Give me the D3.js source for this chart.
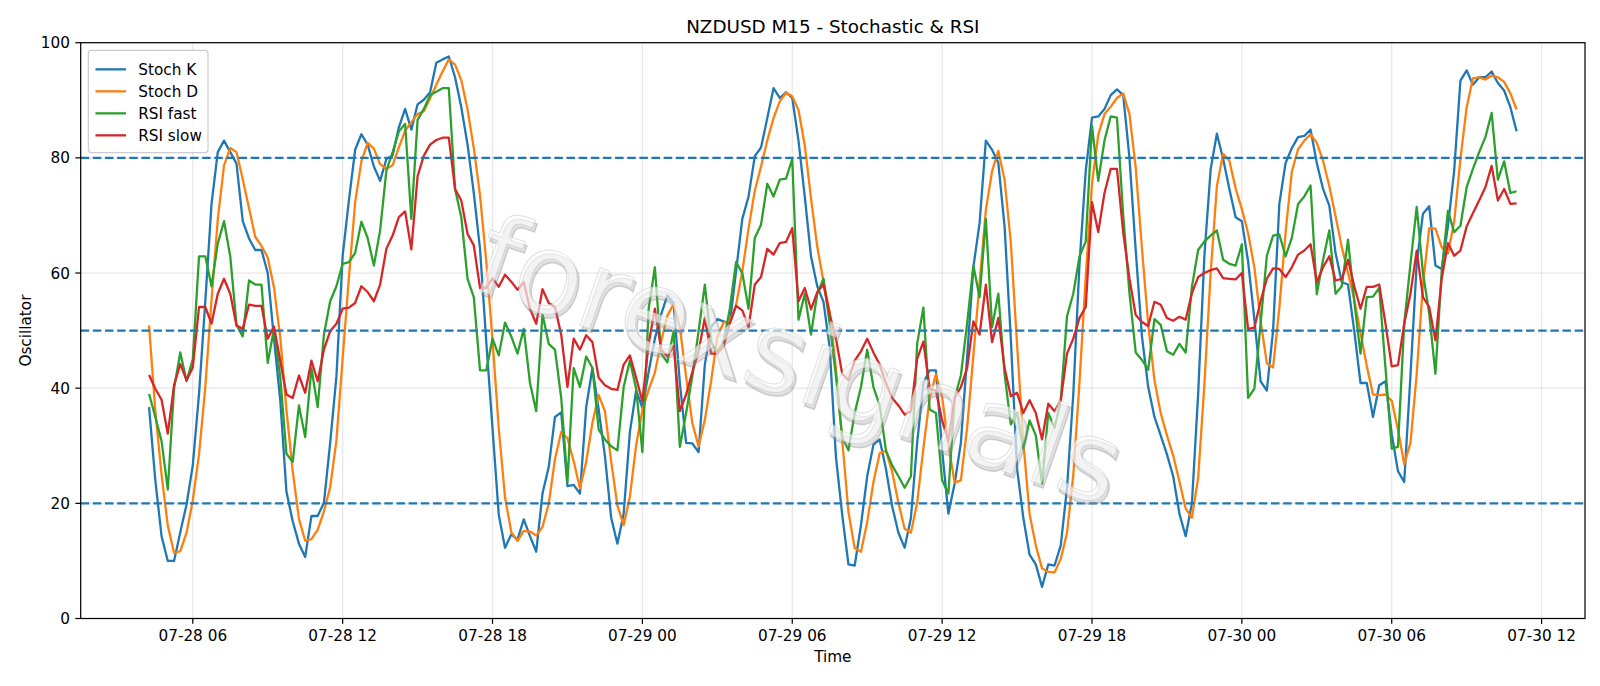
<!DOCTYPE html>
<html>
<head>
<meta charset="utf-8">
<script src="https://cdn.jsdelivr.net/npm/d3@7"></script>
<style>
  html, body { margin: 0; padding: 0; background: #fff; }
  svg { display: block; font-family: 'DejaVu Sans', sans-serif; }
</style>
</head>
<body>
<svg id="chart" width="1600" height="686"></svg>
<script>
'use strict';

// M15 bars from 07-28 04:15 to 07-30 11:00 (UTC)
const START = Date.UTC(2025, 6, 28, 4, 15);
const BAR_MS = 15 * 60 * 1000;

const stochK = [
    36.7, 24, 14.3, 10, 10, 15, 19.8, 26.6, 39, 55,
    72, 81, 83, 81, 79, 69, 66, 64, 64, 60,
    48.6, 38, 22, 16.9, 13, 10.7, 17.8, 17.8, 20.1, 30.5,
    42, 63, 72.6, 81.4, 84.1, 82.3, 78.5, 76, 79.8, 80.4,
    85.3, 88.5, 84.9, 89.3, 90.1, 91.4, 96.5, 97.1, 97.6, 94,
    88.8, 82.3, 73.9, 64.2, 48, 33, 18, 12.3, 14.6, 13.7,
    17.2, 14.3, 11.6, 21.7, 26.3, 35, 35.8, 23, 23.2, 21.7,
    36.7, 43.5, 36.3, 28.2, 17.5, 13, 18.2, 32.4, 39.6, 36.6,
    42.8, 48.6, 52.8, 56.1, 54.8, 40.9, 30.5, 30.4, 28.9, 44.1,
    50.6, 52, 51.6, 51.2, 60.3, 69.4, 73.3, 80.3, 81.8, 86.9,
    92.1, 90.4, 91.4, 90.4, 83, 73.3, 62.9, 57.7, 55, 47,
    28, 18, 9.4, 9.2, 16.2, 24.7, 30.2, 31.1, 26, 19.5,
    14.9, 12.3, 17.5, 30.5, 40.9, 43.1, 43.1, 29.2, 18.2, 23.4,
    30.5, 45.4, 61, 68.7, 83, 81.4, 79.1, 68.1, 48.6, 26,
    17.5, 11.1, 9.4, 5.5, 9.4, 9.2, 12.7, 22.7, 38.9, 61.6,
    77.8, 87, 87.2, 88.5, 90.9, 91.9, 90.9, 80, 64, 49,
    40.2, 35, 31.8, 28.5, 24.7, 18.2, 14.3, 20, 39, 63,
    78, 84.2, 79.8, 74.6, 69.7, 69, 62, 52, 41.2, 39.6,
    50, 72, 79.1, 81.7, 83.6, 83.8, 84.9, 79.1, 74.6, 71.7,
    63.5, 58.4, 58, 49.9, 40.9, 40.9, 35, 40.5, 41.2, 32,
    25.6, 23.7, 42.2, 61.6, 70.3, 71.6, 61.3, 60.7, 68.1, 77.8,
    93.4, 95.2, 92.7, 94, 94, 95, 93, 91.7, 88.8, 84.6
];

const stochD = [
    50.9, 36, 25, 16.1, 11.4, 11.7, 14.9, 20.5, 28.5, 40.2,
    55.3, 69.3, 78.7, 81.7, 81, 76.3, 71.3, 66.3, 64.7, 62.7,
    57.5, 48.9, 36.2, 25.6, 17.3, 13.5, 13.8, 15.4, 18.6, 22.8,
    30.9, 45.2, 59.2, 72.3, 79.4, 82.6, 81.6, 78.9, 78.1, 78.7,
    81.8, 84.7, 86.2, 87.6, 88.1, 90.3, 92.7, 95, 97.1, 96.2,
    93.5, 88.4, 81.7, 73.5, 62, 48.4, 33, 21.1, 15, 13.5,
    15.2, 15.1, 14.4, 15.9, 19.9, 27.7, 32.4, 31.3, 27.3, 22.6,
    27.2, 34, 38.8, 36, 27.3, 19.6, 16.2, 21.2, 30.1, 36.2,
    39.7, 42.7, 48.1, 52.6, 54.6, 50.6, 42, 33.9, 29.9, 34.5,
    41.2, 48.9, 51.4, 51.6, 54.4, 60.3, 67.7, 74.3, 78.5, 83,
    86.9, 89.8, 91.3, 90.7, 88.3, 82.2, 73, 64.6, 58.5, 53.2,
    43.3, 31, 18.5, 12.2, 11.6, 16.7, 23.7, 28.7, 29.1, 25.5,
    20.1, 15.6, 14.9, 20.1, 29.6, 38.2, 42.4, 38.5, 30.2, 23.6,
    24, 33.1, 45.6, 58.4, 70.9, 77.7, 81.2, 76.2, 65.3, 47.6,
    30.7, 18.2, 12.7, 8.7, 8.1, 8, 10.4, 14.9, 24.8, 41.1,
    59.4, 75.5, 84, 87.6, 88.9, 90.4, 91.2, 87.6, 78.3, 64.3,
    51.1, 41.4, 35.7, 31.8, 28.3, 23.8, 19.1, 17.5, 24.4, 40.7,
    60, 75.1, 80.7, 79.5, 74.7, 71.1, 66.9, 61, 51.7, 44.3,
    43.6, 53.9, 67, 77.6, 81.5, 83, 84.1, 82.6, 79.5, 75.1,
    69.9, 64.5, 60, 55.4, 49.6, 43.9, 38.9, 38.8, 38.9, 37.8,
    32.8, 26.8, 30.5, 42.5, 58, 67.8, 67.7, 64.5, 63.4, 68.9,
    79.8, 88.8, 93.8, 94, 93.6, 94.3, 94, 93.2, 91.2, 88.4
];

const rsiFast = [
    39, 35, 30.8, 22.4, 40, 46.2, 41.2, 45, 62.9, 62.9,
    57.7, 65.1, 69, 62.9, 51, 49, 58.7, 58, 58, 44.4,
    50.3, 42, 28.6, 27.2, 37, 31.5, 43.5, 36.7, 49.3, 55.1,
    57.7, 61.6, 61.9, 63.5, 68.9, 66.1, 61.3, 67.4, 77.8, 81,
    84.6, 85.9, 69.4, 86.6, 88.5, 90.9, 91.5, 92.1, 92.1, 74.6,
    69.7, 59, 55.8, 43.1, 43.1, 48.6, 45.7, 51.4, 49, 46,
    50.3, 40.9, 36, 52.9, 47.7, 46.7, 38.3, 23.7, 43.5, 40.2,
    45.5, 43.5, 32.8, 31.1, 29.9, 29.2, 40.2, 44.8, 39.9, 28.9,
    53.8, 61, 46, 44.5, 49.9, 29.8, 35.7, 42.1, 49.9, 58,
    48, 46.4, 48, 53.8, 61.9, 60, 53.8, 66.1, 68.4, 75.5,
    73.3, 76.2, 76.4, 79.8, 51.9, 56.4, 49.3, 56.4, 59, 51.2,
    42.1, 31.5, 29.2, 35.7, 40.2, 46.7, 40.2, 37, 29.2, 26.6,
    24.7, 22.7, 24.7, 47.7, 54, 36.3, 35.7, 24, 21.7, 38.3,
    42.2, 51.2, 61.3, 55.8, 69.4, 50.6, 56.4, 42.5, 33.7, 35.7,
    29.5, 34.4, 31.8, 23.4, 35.7, 33.1, 37.9, 52.5, 56.4, 62.9,
    65.5, 85.6, 76, 83, 87.2, 87, 70, 56.5, 46.2, 44.9,
    43.2, 52, 51, 46.4, 45.8, 47.7, 46.2, 57.6, 64, 65.5,
    66.5, 67.4, 62.3, 61.6, 61.3, 65, 38.3, 39.9, 51.2, 63,
    66.5, 66.7, 62.9, 66.1, 72, 73.3, 75.2, 56.3, 62.3, 67.4,
    56.4, 57.7, 65.8, 55.1, 46, 55.8, 55.9, 57.4, 43.5, 29.5,
    29.8, 51.2, 61.6, 71.5, 60, 53, 42.5, 60.3, 70.8, 67.1,
    68.2, 74.9, 78.1, 81, 83.6, 87.8, 76.2, 79.4, 73.9, 74.2
];

const rsiSlow = [
    42.3, 39.9, 38, 32.1, 40.5, 44.2, 41.4, 43.6, 54.1, 54.1,
    51.2, 56.4, 59, 56.4, 50.9, 50.3, 54.5, 54.3, 54.3, 48.6,
    50.7, 44.8, 38.9, 38.3, 42.2, 39.2, 44.8, 41.2, 46.7, 49.9,
    51.2, 53.8, 54, 54.8, 57.7, 56.7, 55.1, 58, 64.2, 66.5,
    69.7, 70.7, 64.1, 76.8, 80.4, 82.3, 83.1, 83.5, 83.5, 74.6,
    72.6, 66.8, 64.8, 57.4, 57.4, 59.1, 57.6, 59.7, 58.5, 57.1,
    58.4, 53.8, 51.2, 57.2, 54.8, 54.1, 49.3, 40.2, 48.6, 46.7,
    49.2, 48, 41.8, 40.5, 39.9, 39.7, 44.1, 45.7, 41.8, 37.7,
    47.7, 53.8, 46.7, 45.5, 47.3, 36, 38.9, 42.8, 46.4, 52.2,
    46, 46, 47.3, 51.2, 54.3, 53.5, 50.6, 58, 59.3, 64.2,
    63.2, 65.2, 65.4, 67.8, 55.1, 57.4, 53.7, 56.7, 58, 52.8,
    48.6, 42.5, 41.4, 44.8, 46.4, 48.6, 46.2, 44.1, 40.9, 38.3,
    37, 35.4, 36, 45.1, 48.1, 39.9, 39.6, 34.4, 30.8, 38.3,
    40.2, 43.5, 51.6, 49.3, 58, 48, 52.2, 43.5, 38.6, 39.2,
    35.7, 37.9, 35.7, 31.1, 37.3, 36, 37.9, 46, 48.6, 52.2,
    54.1, 72.3, 67.1, 73.9, 78.1, 78.1, 67, 59, 52.7, 51.5,
    50.8, 55, 54.5, 52.2, 51.7, 52.4, 51.9, 56.5, 59.3, 60,
    60.5, 60.8, 59.1, 59, 58.9, 60, 50.3, 50.5, 55.1, 59,
    60.8, 60.7, 59.3, 61, 63.2, 63.9, 65, 58.4, 61, 62.9,
    58.7, 59, 62.3, 57.7, 53.8, 57.6, 57.6, 58, 51.2, 43.8,
    44, 51.2, 56.4, 63.9, 55.8, 54.1, 48.3, 59, 65.2, 63,
    63.9, 68.1, 70.4, 72.6, 74.9, 78.6, 72.6, 74.6, 72, 72.1
];

const seriesNames = ['Stoch K', 'Stoch D', 'RSI fast', 'RSI slow'];
const seriesColors = ['#1f77b4', '#ff7f0e', '#2ca02c', '#d62728'];
const levels = [20, 50, 80];
const yTicks = [0, 20, 40, 60, 80, 100];

const M = { left: 80.7, right: 1585, top: 42.7, bottom: 618.5 };
const PT = 110 / 72;               // matplotlib points -> px
const FS = 10 * PT;                 // tick/legend font size
const LW = 1.5 * PT;

const times = stochK.map((_, i) => new Date(START + i * BAR_MS));
const span = times[times.length - 1] - times[0];

const x = d3.scaleUtc()
    .domain([new Date(+times[0] - span * 0.05), new Date(+times[times.length - 1] + span * 0.05)])
    .range([M.left, M.right]);
const y = d3.scaleLinear().domain([0, 100]).range([M.bottom, M.top]);

const svg = d3.select('#chart');
const plot = svg.append('g');

// clip so nothing leaks out of the axes box
svg.append('defs').append('clipPath').attr('id', 'clip')
    .append('rect')
    .attr('x', M.left).attr('y', M.top)
    .attr('width', M.right - M.left).attr('height', M.bottom - M.top);

const xTicks = x.ticks(d3.utcHour.every(6));
const fmt = d3.utcFormat('%m-%d %H');

// grid
plot.append('g').selectAll('line').data(xTicks).join('line')
    .attr('x1', d => x(d)).attr('x2', d => x(d))
    .attr('y1', M.top).attr('y2', M.bottom)
    .attr('stroke', '#b0b0b0').attr('stroke-opacity', 0.3).attr('stroke-width', 0.8 * PT);
plot.append('g').selectAll('line').data(yTicks).join('line')
    .attr('x1', M.left).attr('x2', M.right)
    .attr('y1', d => y(d)).attr('y2', d => y(d))
    .attr('stroke', '#b0b0b0').attr('stroke-opacity', 0.3).attr('stroke-width', 0.8 * PT);

// series
const series = [stochK, stochD, rsiFast, rsiSlow];
const line = d3.line().x((d, i) => x(times[i])).y(d => y(d));
const lines = plot.append('g').attr('clip-path', 'url(#clip)');
series.forEach((s, k) => {
    lines.append('path')
        .datum(s)
        .attr('d', line)
        .attr('fill', 'none')
        .attr('stroke', seriesColors[k])
        .attr('stroke-width', LW)
        .attr('stroke-linejoin', 'round')
        .attr('stroke-linecap', 'butt');
});

// overbought / oversold levels
plot.append('g').selectAll('line').data(levels).join('line')
    .attr('x1', M.left).attr('x2', M.right)
    .attr('y1', d => y(d)).attr('y2', d => y(d))
    .attr('stroke', '#1f77b4')
    .attr('stroke-width', LW)
    .attr('stroke-dasharray', `${3.7 * LW} ${1.6 * LW}`);

// watermark: pale text with a soft grey shadow
const wm = svg.append('g')
    .attr('transform', 'translate(800,360) rotate(19)')
    .attr('font-size', 112)
    .attr('text-anchor', 'middle')
    .attr('dominant-baseline', 'central');
wm.append('text')
    .attr('x', 3).attr('y', 3)
    .attr('fill', '#9a9a9a')
    .attr('fill-opacity', 0.3)
    .attr('stroke', '#8a8a8a')
    .attr('stroke-width', 1.5)
    .attr('stroke-opacity', 0.35)
    .text('forexsignals');
wm.append('text')
    .attr('fill', '#ffffff')
    .attr('fill-opacity', 0.6)
    .attr('stroke', '#c4c4c4')
    .attr('stroke-width', 1)
    .attr('stroke-opacity', 0.5)
    .text('forexsignals');

// axes box
svg.append('rect')
    .attr('x', M.left).attr('y', M.top)
    .attr('width', M.right - M.left).attr('height', M.bottom - M.top)
    .attr('fill', 'none').attr('stroke', '#000').attr('stroke-width', 0.8 * PT);

// x ticks
const TL = 3.5 * PT;
const xAxis = svg.append('g');
xAxis.selectAll('line').data(xTicks).join('line')
    .attr('x1', d => x(d)).attr('x2', d => x(d))
    .attr('y1', M.bottom).attr('y2', M.bottom + TL)
    .attr('stroke', '#000').attr('stroke-width', 0.8 * PT);
xAxis.selectAll('text').data(xTicks).join('text')
    .attr('x', d => x(d)).attr('y', M.bottom + 2 * TL + 0.76 * FS)
    .attr('text-anchor', 'middle')
    .attr('font-size', FS)
    .attr('fill', '#000')
    .text(fmt);

// y ticks
const yAxis = svg.append('g');
yAxis.selectAll('line').data(yTicks).join('line')
    .attr('x1', M.left - TL).attr('x2', M.left)
    .attr('y1', d => y(d)).attr('y2', d => y(d))
    .attr('stroke', '#000').attr('stroke-width', 0.8 * PT);
yAxis.selectAll('text').data(yTicks).join('text')
    .attr('x', M.left - 2 * TL).attr('y', d => y(d) + 0.36 * FS)
    .attr('text-anchor', 'end')
    .attr('font-size', FS)
    .attr('fill', '#000')
    .text(d => d);

// titles
const cx = (M.left + M.right) / 2;
svg.append('text')
    .attr('x', cx).attr('y', 33)
    .attr('text-anchor', 'middle')
    .attr('font-size', 12 * PT)
    .text('NZDUSD M15 - Stochastic & RSI');
svg.append('text')
    .attr('x', cx).attr('y', 662)
    .attr('text-anchor', 'middle')
    .attr('font-size', FS)
    .text('Time');
svg.append('text')
    .attr('transform', `translate(31,${(M.top + M.bottom) / 2}) rotate(-90)`)
    .attr('text-anchor', 'middle')
    .attr('font-size', FS)
    .text('Oscillator');

// legend
const lg = svg.append('g');
const LX = M.left + 0.5 * FS, LY = M.top + 0.5 * FS;
const rowH = 22, pad = 0.4 * FS;
const box = lg.append('rect')
    .attr('x', LX).attr('y', LY)
    .attr('rx', 0.2 * FS)
    .attr('fill', '#fff').attr('fill-opacity', 0.8)
    .attr('stroke', '#cccccc').attr('stroke-width', 1.2);
let maxW = 0;
seriesNames.forEach((name, k) => {
    const cy = LY + pad + 7.4 + rowH * k + 5.5;
    lg.append('line')
        .attr('x1', LX + pad + 1).attr('x2', LX + pad + 1 + 2 * FS)
        .attr('y1', cy).attr('y2', cy)
        .attr('stroke', seriesColors[k]).attr('stroke-width', LW);
    const t = lg.append('text')
        .attr('x', LX + pad + 1 + 2.8 * FS).attr('y', cy + 0.36 * FS)
        .attr('font-size', FS)
        .text(name);
    maxW = Math.max(maxW, t.node().getComputedTextLength());
});
box.attr('width', pad + 1 + 2.8 * FS + maxW + pad)
   .attr('height', rowH * seriesNames.length + 2 * pad + 2);
</script>
</body>
</html>
